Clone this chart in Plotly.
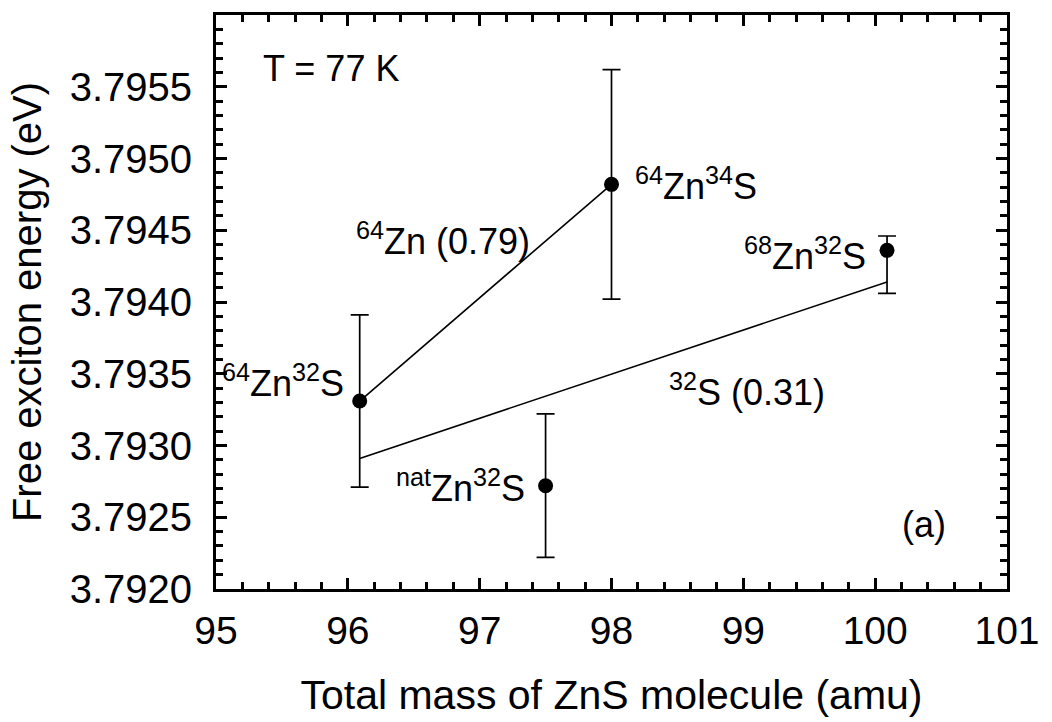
import plotly.graph_objects as go

# ---- data ----
samples = ["64Zn32S", "natZn32S", "64Zn34S", "68Zn32S"]
sample_labels = ["<sup>64</sup>Zn<sup>32</sup>S", "<sup>nat</sup>Zn<sup>32</sup>S",
                 "<sup>64</sup>Zn<sup>34</sup>S", "<sup>68</sup>Zn<sup>32</sup>S"]
mass_amu = [96.09, 97.50, 98.00, 100.09]
energy_ev = [3.79331, 3.79272, 3.79482, 3.79436]
err_plus = [0.00060, 0.00050, 0.00080, 0.00010]
err_minus = [0.00060, 0.00050, 0.00080, 0.00030]

zn64_line_x = [96.09, 98.00]
zn64_line_y = [3.79331, 3.79482]
s32_line_x = [96.09, 100.09]
s32_line_y = [3.79291, 3.79414]

x_ticks = [95, 96, 97, 98, 99, 100, 101]
y_ticks = [3.7920, 3.7925, 3.7930, 3.7935, 3.7940, 3.7945, 3.7950, 3.7955]

FONT = "Liberation Sans, Arial, Helvetica, sans-serif"

fig = go.Figure()
fig.add_trace(go.Scatter(x=zn64_line_x, y=zn64_line_y, mode="lines",
                         line=dict(color="black", width=1.6), showlegend=False))
fig.add_trace(go.Scatter(x=s32_line_x, y=s32_line_y, mode="lines",
                         line=dict(color="black", width=1.6), showlegend=False))
fig.add_trace(go.Scatter(
    x=mass_amu, y=energy_ev, mode="markers",
    marker=dict(color="black", size=15, symbol="circle"),
    error_y=dict(type="data", symmetric=False, array=err_plus, arrayminus=err_minus,
                 color="black", thickness=1.7, width=9),
    showlegend=False))

# point labels anchored on the data points
offsets = {
    "64Zn32S": dict(xanchor="right", xshift=-14, yshift=20),
    "natZn32S": dict(xanchor="right", xshift=-19, yshift=0),
    "64Zn34S": dict(xanchor="left", xshift=21, yshift=0),
    "68Zn32S": dict(xanchor="right", xshift=-19, yshift=-4),
}
for name, lab, xv, yv in zip(samples, sample_labels, mass_amu, energy_ev):
    o = offsets[name]
    fig.add_annotation(x=xv, y=yv, text=lab, showarrow=False, yanchor="middle",
                       font=dict(family=FONT, size=36, color="black"), **o)

texts = [
    dict(x=95.34, y=3.79563, text="T = 77 K", xanchor="left"),
    dict(x=96.72, y=3.79444, text="<sup>64</sup>Zn (0.79)", xanchor="center"),
    dict(x=99.03, y=3.79339, text="<sup>32</sup>S (0.31)", xanchor="center"),
    dict(x=100.37, y=3.79245, text="(a)", xanchor="center"),
]
for t in texts:
    fig.add_annotation(x=t["x"], y=t["y"], text=t["text"], xanchor=t["xanchor"],
                       yanchor="middle", showarrow=False,
                       font=dict(family=FONT, size=36, color="black"))

axis_common = dict(
    showgrid=False, zeroline=False, showline=True, linecolor="black", linewidth=3,
    mirror="allticks", ticks="inside", ticklen=11, tickwidth=2.5, tickcolor="black",
)
fig.update_xaxes(
    range=[95, 101], tickmode="array", tickvals=x_ticks,
    ticktext=[str(v) for v in x_ticks], ticklabelstandoff=5,
    tickfont=dict(family=FONT, size=39, color="black"),
    minor=dict(ticks="inside", ticklen=7, tickwidth=2.5, tickcolor="black",
               tickmode="linear", tick0=95, dtick=0.2, showgrid=False),
    title=dict(text="Total mass of ZnS molecule (amu)",
               font=dict(family=FONT, size=41, color="black"), standoff=30),
    **axis_common)
fig.update_yaxes(
    range=[3.7920, 3.7960], tickmode="array", tickvals=y_ticks,
    ticktext=[f"{v:.4f}" for v in y_ticks], ticklabelstandoff=13,
    tickfont=dict(family=FONT, size=40, color="black"),
    minor=dict(ticks="inside", ticklen=7, tickwidth=2.5, tickcolor="black",
               tickmode="linear", tick0=3.7920, dtick=0.0001, showgrid=False),
    title=dict(text="Free exciton energy (eV)",
               font=dict(family=FONT, size=40, color="black"), standoff=16),
    **axis_common)

fig.update_layout(
    width=1052, height=722,
    margin=dict(l=216, r=34, t=14, b=131),
    paper_bgcolor="white", plot_bgcolor="white",
    font=dict(family=FONT, color="black"),
)

fig.write_html("out.html")
